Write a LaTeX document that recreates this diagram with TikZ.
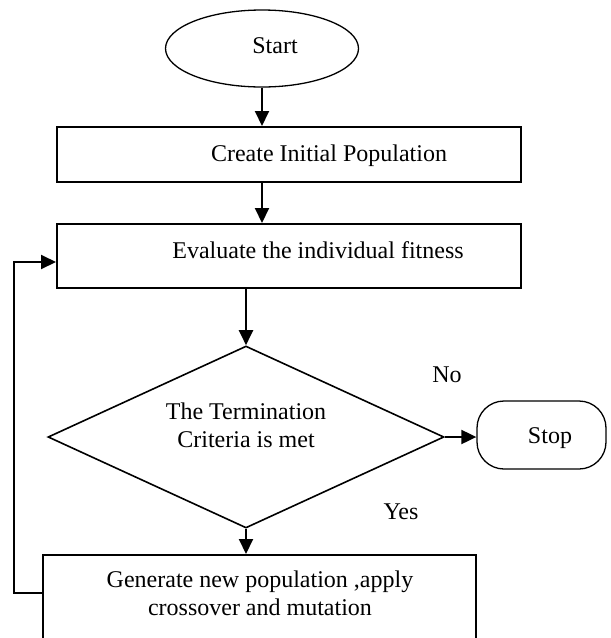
\documentclass[tikz,border=0pt]{standalone}
\usepackage{fontspec}
\setmainfont{Liberation Serif}
\usetikzlibrary{shapes.geometric,arrows.meta}
\begin{document}
\begin{tikzpicture}[x=1pt,y=-1pt,
  lbl/.style={inner sep=0pt,align=center,font=\fontsize{24}{28}\selectfont,text height=17pt,text depth=5pt},
  blk/.style={draw,line width=2pt,inner sep=0pt},
  arr/.style={line width=2pt,-{Triangle[length=15pt,width=14pt]}},
  ]
\clip (0,0) rectangle (611,638);
\node[draw,ellipse,line width=1.3pt,minimum width=193pt,minimum height=77pt,inner sep=0pt] (start) at (262,48.5) {};
\node[lbl] (startt) at (275,47) {Start};
\node[blk,minimum width=464pt,minimum height=55pt] (create) at (289,154.5) {};
\node[lbl] (createt) at (329,155) {Create Initial Population};
\node[blk,minimum width=464pt,minimum height=64pt] (eval) at (289,256) {};
\node[lbl] (evalt) at (318,252) {Evaluate the individual fitness};
\node[draw,diamond,line width=1.6pt,minimum width=396pt,minimum height=182pt,inner sep=0pt] (dia) at (246,437) {};
\node[lbl] (diat) at (246,441) {The Termination\\Criteria is met};
\node[draw,rounded corners=27pt,line width=1.3pt,minimum width=129pt,minimum height=68pt,inner sep=0pt] (stop) at (541.5,435) {};
\node[lbl] (stopt) at (550,437) {Stop};
\node[blk,minimum width=433pt,minimum height=110pt,anchor=north] (gen) at (259.5,554) {};
\node[lbl] (gent) at (260,609) {Generate new population ,apply\\crossover and mutation};
\node[lbl] (no) at (447,376) {No};
\node[lbl] (yes) at (401,513) {Yes};
\draw[arr] (start.south) -- (start.south |- create.north);
\draw[arr] (create.south -| start.south) -- (start.south |- eval.north);
\draw[arr] (eval.south -| dia.north) -- (dia.north);
\draw[arr] (dia.east) -- (dia.east -| stop.west);
\draw[arr] (dia.south) -- (dia.south |- gen.north);
\draw[arr] ([yshift=-39pt]gen.north west) -- ++(-28pt,0) |- ([yshift=-6pt]eval.west);
\end{tikzpicture}
\end{document}
